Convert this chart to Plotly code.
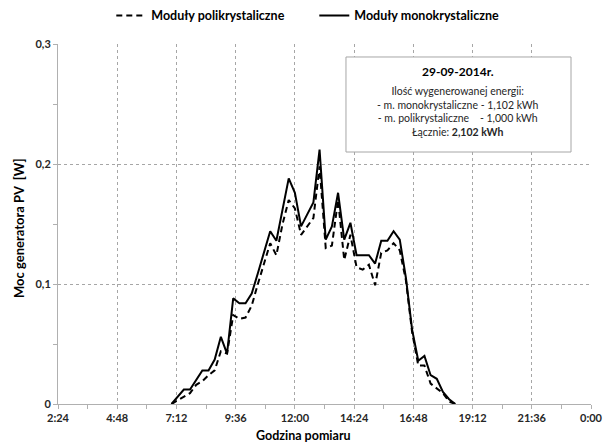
import plotly.graph_objects as go

# Measurement times (every 15 minutes), 29-09-2014
times = [
    "07:00", "07:15", "07:30", "07:45", "08:00", "08:15", "08:30", "08:45",
    "09:00", "09:15", "09:30", "09:45", "10:00", "10:15", "10:30", "10:45",
    "11:00", "11:15", "11:30", "11:45", "12:00", "12:15", "12:30", "12:45",
    "13:00", "13:15", "13:30", "13:45", "14:00", "14:15", "14:30", "14:45",
    "15:00", "15:15", "15:30", "15:45", "16:00", "16:15", "16:30", "16:45",
    "17:00", "17:15", "17:30", "17:45", "18:00", "18:15", "18:30",
]

# PV generator power [W] - polycrystalline modules
poly = [
    0.000, 0.003, 0.006, 0.009, 0.016, 0.019, 0.024, 0.028,
    0.044, 0.042, 0.074, 0.071, 0.072, 0.082, 0.100, 0.117,
    0.134, 0.124, 0.150, 0.170, 0.163, 0.141, 0.148, 0.155,
    0.198, 0.130, 0.132, 0.170, 0.120, 0.141, 0.114, 0.112,
    0.116, 0.099, 0.126, 0.128, 0.134, 0.128, 0.103, 0.060,
    0.032, 0.032, 0.017, 0.013, 0.009, 0.002, 0.000,
]

# PV generator power [W] - monocrystalline modules
mono = [
    0.000, 0.006, 0.012, 0.012, 0.020, 0.028, 0.028, 0.037,
    0.056, 0.042, 0.088, 0.084, 0.084, 0.092, 0.109, 0.126,
    0.144, 0.136, 0.162, 0.188, 0.176, 0.148, 0.158, 0.168,
    0.212, 0.137, 0.148, 0.176, 0.137, 0.151, 0.124, 0.124,
    0.124, 0.117, 0.136, 0.136, 0.144, 0.137, 0.105, 0.062,
    0.036, 0.040, 0.024, 0.021, 0.010, 0.004, 0.000,
]

x_tick_labels = ["2:24", "4:48", "7:12", "9:36", "12:00", "14:24",
                 "16:48", "19:12", "21:36", "0:00"]
y_tick_labels = ["0", "0,1", "0,2", "0,3"]

info_title = "29-09-2014r."
info_lines = [
    "Ilość wygenerowanej energii:",
    "- m. monokrystaliczne - 1,102 kWh",
    "- m. polikrystaliczne\u00a0\u00a0\u00a0\u00a0- 1,000 kWh",
    "Łącznie: <b>2,102 kWh</b>",
]


def to_hours(t):
    h, m = t.split(":")
    return int(h) + int(m) / 60.0


hours = [to_hours(t) for t in times]
x_tick_vals = [2.4 * (i + 1) for i in range(len(x_tick_labels))]
y_tick_vals = [0.1 * i for i in range(len(y_tick_labels))]

FONT = "Lato"
GRID = "#a6a6a6"
AXIS = "#b0b0b0"
TEXT = "#262626"

fig = go.Figure()
fig.add_trace(go.Scatter(
    x=hours, y=poly, mode="lines", name="Moduły polikrystaliczne",
    line=dict(color="black", width=2, dash="6px,4px"),
))
fig.add_trace(go.Scatter(
    x=hours, y=mono, mode="lines", name="Moduły monokrystaliczne",
    line=dict(color="black", width=2),
))

# Energy summary box
fig.add_shape(
    type="rect", xref="paper", yref="paper",
    x0=0.5403, x1=0.9625, y0=0.700, y1=0.9639,
    line=dict(color="#a6a6a6", width=1), fillcolor="white", layer="above",
)
fig.add_annotation(
    x=0.7505, y=0.923, xref="paper", yref="paper",
    xanchor="center", yanchor="middle", showarrow=False,
    text="<b>" + info_title + "</b>",
    font=dict(family=FONT, size=12, color="black"),
)
fig.add_annotation(
    x=0.7505, y=0.812, xref="paper", yref="paper",
    xanchor="center", yanchor="middle", showarrow=False, align="center",
    text="<br>".join(info_lines),
    font=dict(family=FONT, size=10.5, color=TEXT),
)

fig.update_layout(
    width=605, height=445,
    margin=dict(l=58, r=14, t=44, b=41, autoexpand=False),
    paper_bgcolor="white", plot_bgcolor="white",
    font=dict(family=FONT, color=TEXT),
    showlegend=True,
    legend=dict(
        orientation="h", x=0.1, y=1.078, xanchor="left", yanchor="middle",
        font=dict(family=FONT, size=12.5, color="black", weight="bold"),
        itemwidth=30, entrywidth=158, bgcolor="rgba(0,0,0,0)",
    ),
    xaxis=dict(
        range=[2.4, 24.0], automargin=False,
        tickmode="array", tickvals=x_tick_vals, ticktext=x_tick_labels,
        showgrid=True, gridcolor=GRID, griddash="dot", gridwidth=1,
        showline=True, linecolor=AXIS, linewidth=1,
        ticks="outside", ticklen=4, tickcolor=AXIS,
        minor=dict(dtick=1.2, tick0=0, ticks="outside", ticklen=4,
                   tickcolor=AXIS, showgrid=False),
        tickfont=dict(family=FONT, size=11, color=TEXT, weight="bold"),
        zeroline=False, fixedrange=True,
    ),
    yaxis=dict(
        range=[0, 0.3], automargin=False,
        tickmode="array", tickvals=y_tick_vals, ticktext=y_tick_labels,
        showgrid=True, gridcolor=GRID, griddash="dot", gridwidth=1,
        showline=True, linecolor=AXIS, linewidth=1,
        ticks="outside", ticklen=4, tickcolor=AXIS,
        minor=dict(dtick=0.05, tick0=0, ticks="outside", ticklen=4,
                   tickcolor=AXIS, showgrid=False),
        tickfont=dict(family=FONT, size=11, color=TEXT, weight="bold"),
        zeroline=False, fixedrange=True,
    ),
)

# Axis titles placed as free text so they sit exactly where needed
fig.add_annotation(
    x=(303 - 58) / 533, y=-(436 - 404) / 360, xref="paper", yref="paper",
    xanchor="center", yanchor="middle", showarrow=False,
    text="<b>Godzina pomiaru</b>",
    font=dict(family=FONT, size=12.5, color="black"),
)
fig.add_annotation(
    x=-(58 - 19) / 533, y=(404 - 228) / 360, xref="paper", yref="paper",
    xanchor="center", yanchor="middle", showarrow=False, textangle=-90,
    text="<b>Moc generatora PV\u00a0\u00a0[W]</b>",
    font=dict(family=FONT, size=13, color="black"),
)

fig.write_html("out.html")
